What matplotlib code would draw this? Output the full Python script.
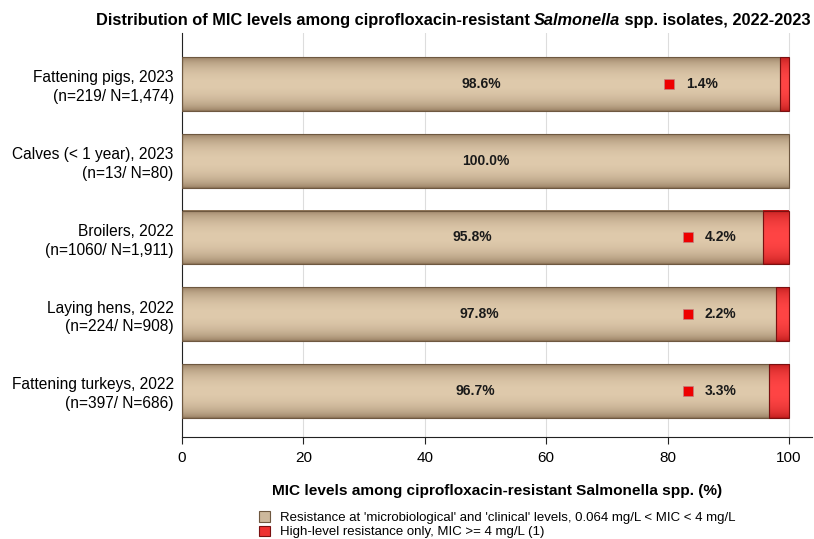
import matplotlib.pyplot as plt
import matplotlib.patches as mpatches
import matplotlib.colors as mcolors
import numpy as np

plt.rcParams['font.family'] = ['Liberation Sans', 'DejaVu Sans']

categories = [
    "Fattening pigs, 2023\n(n=219/ N=1,474)",
    "Calves (< 1 year), 2023\n(n=13/ N=80)",
    "Broilers, 2022\n(n=1060/ N=1,911)",
    "Laying hens, 2022\n(n=224/ N=908)",
    "Fattening turkeys, 2022\n(n=397/ N=686)",
]
micro_clinical = [98.6, 100.0, 95.8, 97.8, 96.7]
high_level = [1.4, 0.0, 4.2, 2.2, 3.3]
legend_labels = [
    "Resistance at 'microbiological' and 'clinical' levels, 0.064 mg/L < MIC < 4 mg/L",
    "High-level resistance only, MIC >= 4 mg/L (1)",
]
title_parts = [
    ("Distribution of MIC levels among ciprofloxacin-resistant ", "normal"),
    ("Salmonella", "italic"),
    (" spp. isolates, 2022-2023", "normal"),
]

tan_dark, tan_light = "#8e7559", "#dfcaac"
red_dark, red_light = "#b81818", "#ff4545"


def gradient_bar(ax, left, width, y, height, dark, light, edge):
    if width <= 0:
        return
    t = np.linspace(0, 1, 64)
    w = np.sin(np.pi * t) ** 0.5
    c0 = np.array(mcolors.to_rgb(dark))
    c1 = np.array(mcolors.to_rgb(light))
    img = (c0[None, :] * (1 - w[:, None]) + c1[None, :] * w[:, None])[:, None, :]
    ax.imshow(img, extent=(left, left + width, y + height / 2, y - height / 2),
              aspect="auto", interpolation="bilinear", zorder=2)
    ax.add_patch(mpatches.Rectangle((left, y - height / 2), width, height,
                                    fill=False, edgecolor=edge, lw=0.8, zorder=3))


fig = plt.figure(figsize=(8.14, 5.39), dpi=100)
ax = fig.add_axes([0.2236, 0.1893, 0.774, 0.7495])

ypos = np.arange(len(categories))
bh = 0.7
for i, y in enumerate(ypos):
    gradient_bar(ax, 0, micro_clinical[i], y, bh, tan_dark, tan_light, "#6e5840")
    gradient_bar(ax, micro_clinical[i], high_level[i], y, bh, red_dark, red_light, "#7a1010")
    ax.text(micro_clinical[i] / 2, y, f"{micro_clinical[i]:.1f}%", ha="center", va="center",
            fontsize=10, fontweight="bold", color="#1a1a1a", zorder=4)
    if high_level[i] > 0:
        mx = 80.2 if i == 0 else 83.3
        ax.plot(mx, y, "s", ms=6.5, color="#ee0000", mec="#c08080", mew=0.5, zorder=4)
        ax.text(mx + 2.8, y, f"{high_level[i]:.1f}%", ha="left", va="center",
                fontsize=10, fontweight="bold", color="#1a1a1a", zorder=4)

ax.set_xlim(0, 103.8)
ax.set_ylim(4.6, -0.664)
ax.set_yticks(ypos)
ax.set_yticklabels(categories, fontsize=11.2, ha="right", multialignment="right",
                   linespacing=1.3)
ax.set_xticks([0, 20, 40, 60, 80, 100])
ax.tick_params(axis="x", labelsize=11, length=5, color="#222222", pad=5)
ax.tick_params(axis="y", length=0, pad=6)
ax.grid(axis="x", color="#dddddd", lw=0.8, zorder=0)
ax.set_axisbelow(True)
for s in ["top", "right"]:
    ax.spines[s].set_visible(False)
ax.spines["left"].set_color("#222222")
ax.spines["bottom"].set_color("#222222")

ax.set_xlabel("MIC levels among ciprofloxacin-resistant Salmonella spp. (%)",
              fontsize=11.1, fontweight="bold", labelpad=14)

# title built from pieces so the genus name can be bold italic
fig.canvas.draw()
renderer = fig.canvas.get_renderer()
pieces = []
for txt, style in title_parts:
    pieces.append(fig.text(0, 0.962, txt, fontsize=11.8, fontweight="bold",
                           fontstyle=style, va="center", ha="left"))
widths = [p.get_window_extent(renderer).width for p in pieces]
x0 = (95 + 812) / 2 - sum(widths) / 2
for p, w in zip(pieces, widths):
    p.set_x(x0 / fig.bbox.width)
    x0 += w

handles = [
    mpatches.Patch(facecolor="#cdb89c", edgecolor="#6e5840", lw=0.8),
    mpatches.Patch(facecolor="#ee3030", edgecolor="#7a1010", lw=0.8),
]
fig.legend(handles, legend_labels, loc="lower left", bbox_to_anchor=(0.307, -0.016),
           frameon=False, fontsize=9.5, handlelength=0.85, handleheight=0.85,
           handletextpad=0.75, labelspacing=0.12, borderpad=0.2)

fig.savefig("out.png", dpi=100)
